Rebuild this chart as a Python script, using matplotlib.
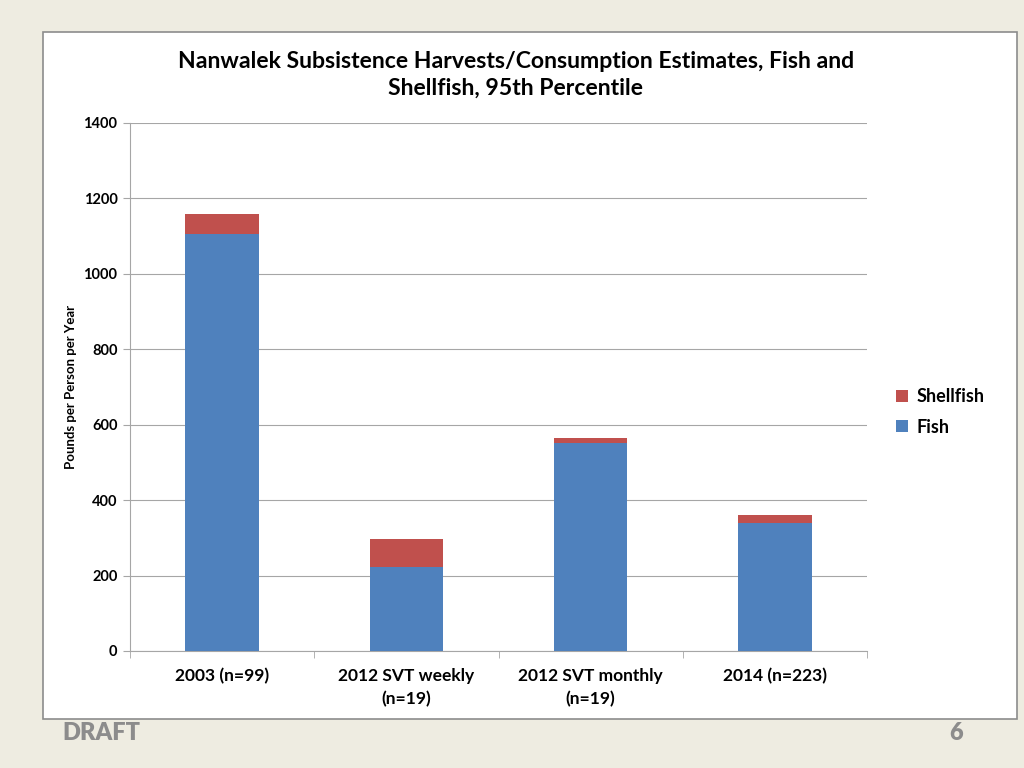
import numpy as np
import matplotlib.pyplot as plt
from matplotlib.patches import Rectangle

plt.rcParams['font.family'] = ['Lato', 'DejaVu Sans']

# data
categories = ["2003 (n=99)", "2012 SVT weekly\n(n=19)", "2012 SVT monthly\n(n=19)", "2014 (n=223)"]
fish = [1106, 224, 552, 340]
shellfish = [53, 73, 12, 21]
yticks = [0, 200, 400, 600, 800, 1000, 1200, 1400]

BLUE = "#4F81BD"
RED = "#C0504D"

fig = plt.figure(figsize=(10.24, 7.68), dpi=100)
fig.patch.set_facecolor("#EEECE1")

# white chart box
fig.patches.append(Rectangle((43 / 1024, 1 - 719 / 768), (1017 - 43) / 1024, (719 - 32) / 768,
                             transform=fig.transFigure, facecolor="white",
                             edgecolor="#8C8C8C", linewidth=1.2, zorder=-10))

ax = fig.add_axes([130 / 1024, 1 - 651 / 768, (867 - 130) / 1024, (651 - 123) / 768])
ax.set_facecolor("white")

x = np.arange(len(categories))
ax.bar(x, fish, width=0.4, color=BLUE, label="Fish", zorder=3)
ax.bar(x, shellfish, width=0.4, bottom=fish, color=RED, label="Shellfish", zorder=3)

ax.set_xlim(-0.5, len(categories) - 0.5)
ax.set_ylim(0, 1400)
ax.set_yticks(yticks)
ax.set_yticklabels([str(v) for v in yticks], fontsize=10.5, fontweight="bold")
ax.yaxis.grid(True, color="#A6A6A6", linewidth=0.8, zorder=0)
ax.set_axisbelow(True)

ax.set_xticks(x)
ax.set_xticklabels(categories, fontsize=12.5, fontweight="bold", linespacing=1.55)
ax.tick_params(axis="x", length=0, pad=12)
ax.set_xticks(np.arange(-0.5, len(categories)), minor=True)
ax.tick_params(axis="x", which="minor", length=5, color="#A6A6A6")
ax.tick_params(axis="y", length=5, color="#A6A6A6", pad=4)

for s in ["top", "right"]:
    ax.spines[s].set_visible(False)
for s in ["left", "bottom"]:
    ax.spines[s].set_color("#A6A6A6")

ax.set_ylabel("Pounds per Person per Year", fontsize=9.5, fontweight="bold", labelpad=5)

fig.text(516 / 1024, 1 - 75 / 768,
         "Nanwalek Subsistence Harvests/Consumption Estimates, Fish and\nShellfish, 95th Percentile",
         ha="center", va="center", fontsize=16.6, fontweight="bold", linespacing=1.3)

handles, labels = ax.get_legend_handles_labels()
fig.legend(handles[::-1], labels[::-1], loc="center left", bbox_to_anchor=(880 / 1024, 1 - 412 / 768),
           frameon=False, prop={"weight": "bold", "size": 13},
           handlelength=0.65, handleheight=0.65, handletextpad=0.45, labelspacing=0.75)

fig.text(62 / 1024, 1 - 733 / 768, "DRAFT", fontsize=17, fontweight="heavy", color="#8C8C8C", va="center")
fig.text(963 / 1024, 1 - 733 / 768, "6", fontsize=17, fontweight="heavy", color="#8C8C8C", va="center", ha="right")

fig.savefig("out.png", dpi=100, facecolor=fig.get_facecolor())
